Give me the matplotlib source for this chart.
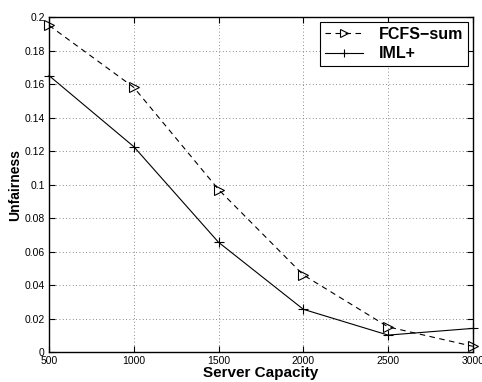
import matplotlib
matplotlib.use("Agg")
import matplotlib.pyplot as plt

capacity = [500, 1000, 1500, 2000, 2500, 3000]
fcfs_sum = [0.195, 0.158, 0.097, 0.046, 0.015, 0.0034]
iml_plus = [0.165, 0.1226, 0.0655, 0.0255, 0.0101, 0.0141]

yticks = [0, 0.02, 0.04, 0.06, 0.08, 0.1, 0.12, 0.14, 0.16, 0.18, 0.2]
ytick_labels = ["0", "0.02", "0.04", "0.06", "0.08", "0.1", "0.12", "0.14", "0.16", "0.18", "0.2"]

plt.rcParams["font.family"] = ["Liberation Sans", "DejaVu Sans"]

fig = plt.figure(figsize=(4.82, 3.82), dpi=100)
ax = fig.add_axes([0.1017, 0.0785, 0.8793, 0.877])

ax.plot(capacity, fcfs_sum, color="black", linestyle=(0, (5, 4)), linewidth=0.8,
        marker=">", markersize=7, markerfacecolor="none", markeredgewidth=0.8,
        label="FCFS\u2212sum", clip_on=False)
ax.plot(capacity, iml_plus, color="black", linestyle="-", linewidth=0.8,
        marker="+", markersize=7, markeredgewidth=0.8,
        label="IML+", clip_on=False)

ax.set_xlim(500, 3000)
ax.set_ylim(0, 0.2)
ax.set_xticks(capacity)
ax.set_xticklabels([str(c) for c in capacity])
ax.set_yticks(yticks)
ax.set_yticklabels(ytick_labels)
ax.tick_params(direction="in", length=4, width=0.8, labelsize=7.5,
               top=True, right=True, pad=3)
ax.grid(True, linestyle=(0, (1, 3)), color="#666666", linewidth=0.6)
for s in ax.spines.values():
    s.set_linewidth(1.0)

ax.set_xlabel("Server Capacity", fontsize=11, fontweight="bold", labelpad=0)
ax.set_ylabel("Unfairness", fontsize=10, fontweight="bold", labelpad=2)

leg = ax.legend(loc="upper right", prop={"weight": "bold", "size": 11.5},
                frameon=True, fancybox=False, edgecolor="black", framealpha=1,
                borderaxespad=0.3, handlelength=2.4, handletextpad=1.0,
                borderpad=0.3, labelspacing=0.3, markerscale=0.75)
leg.get_frame().set_linewidth(0.8)

fig.savefig("out.png", dpi=100)
